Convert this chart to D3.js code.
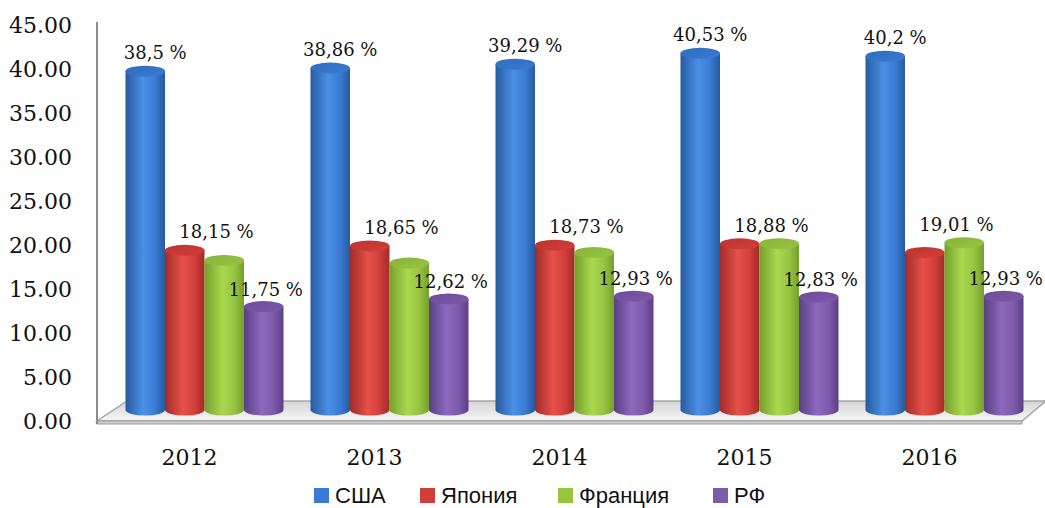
<!DOCTYPE html>
<html><head><meta charset="utf-8">
<script src="https://cdn.jsdelivr.net/npm/d3@7"></script>
<style>html,body{margin:0;padding:0;background:#fff;overflow:hidden}</style>
</head><body>
<svg id="chart" width="1045" height="508"></svg>
<script>
const years = ["2012", "2013", "2014", "2015", "2016"];
const seriesNames = ["США", "Япония", "Франция", "РФ"];
const usa = [38.5, 38.86, 39.29, 40.53, 40.2];
const japan = [18.15, 18.65, 18.73, 18.88, 17.9];
const france = [17.0, 16.7, 17.9, 18.9, 19.01];
const rf = [11.75, 12.62, 12.93, 12.83, 12.93];
const yTicks = [0, 5, 10, 15, 20, 25, 30, 35, 40, 45];
const usaLabels = ["38,5 %", "38,86 %", "39,29 %", "40,53 %", "40,2 %"];
const midLabels = ["18,15 %", "18,65 %", "18,73 %", "18,88 %", "19,01 %"];
const midLabelValues = [18.15, 18.65, 18.73, 18.88, 19.01];
const rfLabels = ["11,75 %", "12,62 %", "12,93 %", "12,83 %", "12,93 %"];

const seriesValues = [usa, japan, france, rf];
const colors = [
  {base:"#3a7bd3", light:"#4b90e6", dark:"#275a9f", top:"#2f6cbd"},
  {base:"#d23f3a", light:"#e6504a", dark:"#a22b27", top:"#bb332f"},
  {base:"#98c443", light:"#aad84f", dark:"#74a02c", top:"#86b437"},
  {base:"#7d5aab", light:"#8c69bd", dark:"#5c3f86", top:"#6c4c99"}
];

const svg = d3.select("#chart");
const defs = svg.append("defs");
colors.forEach((c, i) => {
  const g = defs.append("linearGradient").attr("id", "cyl" + i).attr("x1", "0").attr("x2", "1").attr("y1", "0").attr("y2", "0");
  g.append("stop").attr("offset", "0%").attr("stop-color", c.dark);
  g.append("stop").attr("offset", "45%").attr("stop-color", c.light);
  g.append("stop").attr("offset", "75%").attr("stop-color", c.base);
  g.append("stop").attr("offset", "100%").attr("stop-color", c.dark);
  const t = defs.append("linearGradient").attr("id", "top" + i).attr("x1", "0").attr("x2", "1").attr("y1", "0").attr("y2", "1");
  t.append("stop").attr("offset", "0%").attr("stop-color", c.top);
  t.append("stop").attr("offset", "100%").attr("stop-color", c.base);
});
const fg = defs.append("linearGradient").attr("id", "floor").attr("x1", "0").attr("x2", "0").attr("y1", "0").attr("y2", "1");
fg.append("stop").attr("offset", "0%").attr("stop-color", "#d4d4d4");
fg.append("stop").attr("offset", "100%").attr("stop-color", "#f7f7f7");

// scales
const frontLeft = 97, frontRight = 1022;
const depthX = 15, depthY = -11;
const y = d3.scaleLinear().domain([0, 45]).range([421, 25]);
const x0 = d3.scaleBand().domain(years).range([frontLeft + depthX, frontRight + depthX]).paddingInner(0.146).paddingOuter(0.073);
const x1 = d3.scaleBand().domain(seriesNames).range([0, x0.bandwidth()]);

// floor
const y0 = y(0);
svg.append("path")
  .attr("d", `M${frontLeft},${y0} L${frontRight},${y0} L${frontRight + 24},${y0 - 20} L${frontLeft + 30},${y0 - 20} Z`)
  .attr("fill", "url(#floor)").attr("stroke", "#a6a6a6").attr("stroke-width", 1.5);
svg.append("path")
  .attr("d", `M${frontLeft},${y0} L${frontRight},${y0} L${frontRight},${y0 + 3} L${frontLeft},${y0 + 3} Z`)
  .attr("fill", "#d0d0d0").attr("stroke", "#9a9a9a").attr("stroke-width", 1);

// vertical axis
svg.append("line").attr("x1", frontLeft).attr("x2", frontLeft).attr("y1", y(45) - 3).attr("y2", y0 + 3)
  .attr("stroke", "#8c8c8c").attr("stroke-width", 2);

const serif = "'DejaVu Serif', serif";
svg.append("g").selectAll("text").data(yTicks).join("text")
  .attr("x", 72).attr("y", d => y(d)).attr("dy", "0.36em").attr("text-anchor", "end")
  .attr("font-family", serif).attr("font-size", 22).attr("fill", "#111")
  .text(d => d3.format(".2f")(d));

// year labels (front plane)
svg.append("g").selectAll("text").data(years).join("text")
  .attr("x", d => x0(d) + x0.bandwidth() / 2 - depthX).attr("y", 465)
  .attr("text-anchor", "middle").attr("font-family", serif).attr("font-size", 22).attr("fill", "#111")
  .text(d => d);

// cylinders
const ry = 5.5;
const barBase = y(0) + depthY;
const bars = [];
years.forEach((yr, gi) => {
  seriesNames.forEach((s, si) => {
    bars.push({yr, gi, s, si, v: seriesValues[si][gi]});
  });
});
const bg = svg.append("g");
bars.forEach(b => {
  const bx = x0(b.yr) + x1(b.s);
  const bw = x1.bandwidth();
  const top = y(b.v) + depthY;
  const g = bg.append("g");
  g.append("path")
    .attr("d", `M${bx},${top} L${bx},${barBase} A${bw / 2},${ry} 0 0 0 ${bx + bw},${barBase} L${bx + bw},${top} Z`)
    .attr("fill", `url(#cyl${b.si})`);
  g.append("ellipse").attr("cx", bx + bw / 2).attr("cy", top).attr("rx", bw / 2).attr("ry", ry)
    .attr("fill", `url(#top${b.si})`);
});

// data labels
const lbl = svg.append("g").attr("font-family", serif).attr("font-size", 18).attr("fill", "#111").attr("text-anchor", "middle");
years.forEach((yr, gi) => {
  const bw = x1.bandwidth();
  lbl.append("text").attr("x", x0(yr) + x1("США") + bw / 2 + 10).attr("y", y(usa[gi]) + depthY - 12).text(usaLabels[gi]);
  lbl.append("text").attr("x", x0(yr) + x1("Франция") + 12).attr("y", y(midLabelValues[gi]) + depthY - 12).text(midLabels[gi]);
  lbl.append("text").attr("x", x0(yr) + x1("РФ") + bw / 2 + 2).attr("y", y(rf[gi]) + depthY - 11).text(rfLabels[gi]);
});

// legend
const legendX = [314, 420, 558, 713];
const lg = svg.append("g");
seriesNames.forEach((s, i) => {
  lg.append("rect").attr("x", legendX[i]).attr("y", 488).attr("width", 15).attr("height", 15).attr("fill", colors[i].base);
  lg.append("text").attr("x", legendX[i] + 21).attr("y", 503).attr("font-family", "'Liberation Sans', Arial, sans-serif")
    .attr("font-size", 22).attr("fill", "#111").text(s);
});
</script>
</body></html>
